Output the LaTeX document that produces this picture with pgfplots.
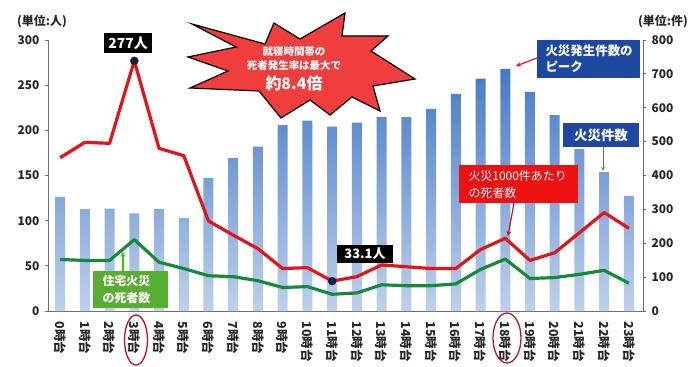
\documentclass[border=0pt]{standalone}
\usepackage{pgfplots}
\pgfplotsset{compat=1.18}
\usepackage{fontspec}
\setmainfont{Noto Sans CJK JP}
\definecolor{barTop}{RGB}{70,122,198}
\definecolor{barBot}{RGB}{190,209,236}
\definecolor{redLine}{RGB}{226,20,24}
\definecolor{greenLine}{RGB}{20,138,58}
\definecolor{burst}{RGB}{240,62,62}
\definecolor{blueBox}{RGB}{30,72,160}
\definecolor{redBox}{RGB}{236,18,18}
\definecolor{greenBox}{RGB}{88,174,48}
\definecolor{axisGray}{RGB}{110,110,110}
\definecolor{ellRed}{RGB}{190,20,30}
\definecolor{navy}{RGB}{20,30,70}
\newcommand{\tfont}{\bfseries\fontsize{12.5}{13}\selectfont}
\newcommand{\yfont}{\bfseries\fontsize{12}{13}\selectfont}
\begin{document}
\begin{tikzpicture}
\path[use as bounding box] (0,0) rectangle (700bp,367bp);
\pgfplotsset{
  common/.style={
    at={(48bp,56bp)}, anchor=south west, scale only axis,
    width=595bp, height=271bp, xmin=-0.49, xmax=23.57,
    /pgf/number format/assume math mode=true,
    tick align=outside, major tick length=3bp,
    every tick/.style={axisGray, line width=0.8pt},
    axis line style={axisGray, line width=1pt},
    yticklabel style={font=\yfont, text=black!85},
    clip=false,
  }
}
% bars on right axis
\begin{axis}[common,
  ymin=0, ymax=800, ytick={0,100,...,800},
  axis y line*=right, axis x line*=bottom,
  xtick={0,...,23},
  xticklabels={0時台,1時台,2時台,3時台,4時台,5時台,6時台,7時台,8時台,9時台,10時台,11時台,12時台,13時台,14時台,15時台,16時台,17時台,18時台,19時台,20時台,21時台,22時台,23時台},
  xticklabel style={rotate=-90, anchor=west, font=\tfont, text=black!85},
  xticklabel shift=4bp,
  x tick style={draw=none},
  yticklabel style={xshift=2bp},
]
\addplot[ybar, bar width=10bp, draw=none, top color=barTop, bottom color=barBot] coordinates {
(0,337) (1,301) (2,302) (3,288) (4,301) (5,275) (6,393) (7,451) (8,485) (9,549) (10,562) (11,544)
(12,556) (13,572) (14,572) (15,597) (16,641) (17,686) (18,715) (19,647) (20,578) (21,478) (22,411) (23,340)};
\end{axis}
% lines on left axis
\begin{axis}[common,
  ymin=0, ymax=300, ytick={0,50,...,300},
  axis y line*=left, axis x line=none,
  yticklabel style={xshift=-2bp},
]
\addplot[redLine, line width=3.2pt, line join=round] coordinates {
(0,169.7) (1,186.7) (2,185.6) (3,277) (4,180) (5,172) (6,99.6) (7,84) (8,69) (9,47) (10,48) (11,33.1)
(12,38) (13,51) (14,49) (15,47) (16,47) (17,68) (18,80.5) (19,56) (20,64.5) (21,86.7) (22,109) (23,91.5)};
\addplot[greenLine, line width=3.2pt, line join=round] coordinates {
(0,57) (1,56) (2,56) (3,79) (4,54) (5,47) (6,39) (7,38) (8,33.5) (9,26) (10,27) (11,18.5)
(12,20) (13,29) (14,28) (15,28) (16,30) (17,46) (18,57.5) (19,36) (20,37) (21,40.6) (22,45) (23,30.7)};
\addplot[only marks, mark=*, mark size=4bp, mark options={fill=navy, draw=navy}] coordinates {(3,277) (11,33.1)};
\end{axis}
% annotations (image pixel coordinates, y downward)
\begin{scope}[shift={(0bp,367bp)}, x=1bp, y=-1bp]
\node[font=\bfseries\fontsize{12}{12}\selectfont, text=black!85] at (42,22) {(単位:人)};
\node[font=\bfseries\fontsize{12}{12}\selectfont, text=black!85] at (663,22) {(単位:件)};
% starburst
\fill[burst, draw=black, line width=1.2pt, line join=miter]
 (192,24) -- (265,44) -- (274,23) -- (300,39) -- (345,13) -- (342,36) -- (388,36) -- (371,51)
 -- (415,79) -- (373,86) -- (380,111) -- (352,97) -- (330,115) -- (310,100) -- (281,118)
 -- (259,91) -- (190,88) -- (228,71) -- (188,57) -- (236,47) -- cycle;
\node[text=white, font=\bfseries\fontsize{10.5}{10.5}\selectfont] at (294,52) {就寝時間帯の};
\node[text=white, font=\bfseries\fontsize{10.5}{10.5}\selectfont] at (294,66) {死者発生率は最大で};
\node[text=white, font=\bfseries\fontsize{16}{16}\selectfont] at (294,83) {約8.4倍};
% black value boxes
\node[fill=black, text=white, font=\bfseries\fontsize{14}{14}\selectfont, minimum width=48bp, minimum height=20bp, inner sep=0pt] at (128,43) {277人};
\node[fill=black, text=white, font=\bfseries\fontsize{13}{13}\selectfont, minimum width=56bp, minimum height=18bp, inner sep=0pt] at (365,254) {33.1人};
% blue box: peak
\fill[blueBox] (537,40) rectangle (640,78);
\node[text=white, anchor=west, font=\bfseries\fontsize{12.5}{12.5}\selectfont] at (542,51) {火災発生件数の};
\node[text=white, anchor=west, font=\bfseries\fontsize{12.5}{12.5}\selectfont] at (542,67) {ピーク};
\draw[-stealth, redLine, line width=1.2pt] (537,58) -- (516,66);
% blue box: fire count
\fill[blueBox] (563,123) rectangle (639,147);
\node[text=white, font=\bfseries\fontsize{13.5}{13.5}\selectfont] at (601,135) {火災件数};
\draw[-stealth, axisGray, line width=0.9pt] (603,147) -- (603,171);
% red box
\fill[redBox] (459,165) rectangle (578,203);
\node[text=white, anchor=west, font=\fontsize{12}{12}\selectfont] at (465,176) {火災1000件あたり};
\node[text=white, anchor=west, font=\fontsize{12}{12}\selectfont] at (465,193) {の死者数};
\draw[-stealth, ellRed, line width=1.2pt] (514,203) -- (508,236);
% green box
\fill[greenBox] (93,271) rectangle (168,308);
\node[text=white, anchor=west, font=\bfseries\fontsize{12}{12}\selectfont] at (99,281) {住宅火災};
\node[text=white, anchor=west, font=\bfseries\fontsize{12}{12}\selectfont] at (99,298) {の死者数};
\draw[-stealth, green!50!olive, line width=1.2pt] (123,271) -- (123,252);
% ellipses
\draw[ellRed, line width=1.3pt] (136,340) ellipse [x radius=11.5, y radius=25];
\draw[ellRed, line width=1.3pt] (507,338) ellipse [x radius=14, y radius=25];
\end{scope}
\end{tikzpicture}
\end{document}
